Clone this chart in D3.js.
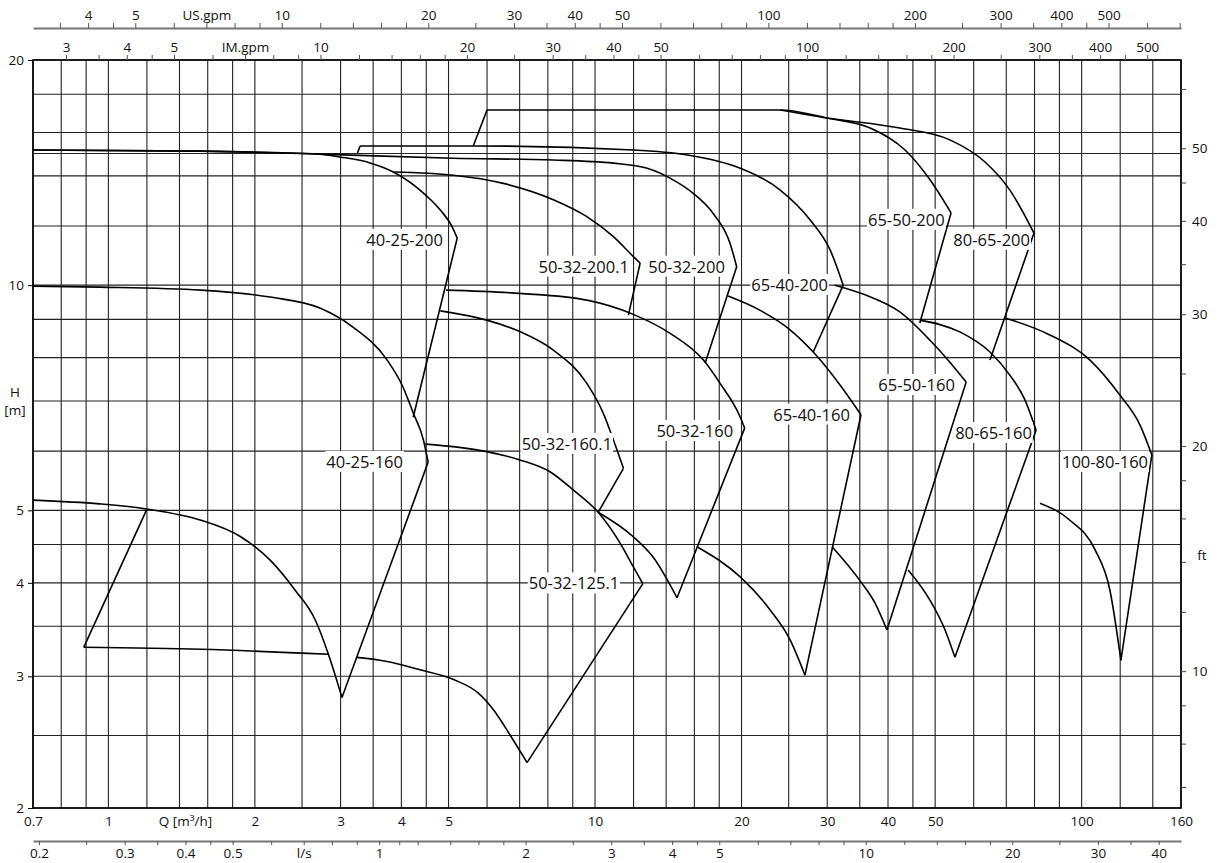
<!DOCTYPE html>
<html>
<head>
<meta charset="utf-8">
<script src="https://d3js.org/d3.v7.min.js"></script>
<style>
  body { margin: 0; background: #fff; }
  svg text { font-family: "Open Sans", "DejaVu Sans", sans-serif; fill: #111; }
</style>
</head>
<body>
<svg id="chart"></svg>
<script>
// ---- axis / grid values ----
const qGrid = [0.7, 0.8, 0.9, 1, 1.2, 1.4, 1.6, 1.8, 2, 2.5, 3, 3.5, 4, 4.5, 5, 6, 7, 8, 9, 10,
  12, 14, 16, 18, 20, 25, 30, 35, 40, 45, 50, 60, 70, 80, 90, 100, 120, 140, 160];
const hGrid = [2, 2.5, 3, 3.5, 4, 4.5, 5, 6, 7, 8, 9, 10, 12, 14, 15, 16, 18, 20];
const qLabels = [0.7, 1, 2, 3, 4, 5, 10, 20, 30, 40, 50, 100, 160];
const hLabels = [2, 3, 4, 5, 10, 20];
const usTicks = [3.5, 4, 4.5, 5, 6, 7, 8, 9, 10, 12, 14, 16, 18, 20, 25, 30, 35, 40, 45, 50, 60, 70, 80, 90,
  100, 120, 140, 160, 180, 200, 250, 300, 350, 400, 450, 500, 600, 700];
const usLabels = [4, 5, 7, 10, 20, 30, 40, 50, 100, 200, 300, 400, 500];
const imTicks = [3, 3.5, 4, 4.5, 5, 6, 7, 8, 9, 10, 12, 14, 16, 18, 20, 25, 30, 35, 40, 45, 50, 60, 70, 80, 90,
  100, 120, 140, 160, 180, 200, 250, 300, 350, 400, 450, 500];
const imLabels = [3, 4, 5, 7, 10, 20, 30, 40, 50, 100, 200, 300, 400, 500];
const lsTicks = [0.2, 0.25, 0.3, 0.35, 0.4, 0.45, 0.5, 0.6, 0.7, 0.8, 0.9, 1, 1.1, 1.2, 1.4, 1.6, 1.8, 2, 2.5,
  3, 3.5, 4, 4.5, 5, 6, 7, 8, 9, 10, 12, 14, 16, 18, 20, 25, 30, 35, 40];
const lsLabels = [0.2, 0.3, 0.4, 0.5, 0.7, 1, 2, 3, 4, 5, 10, 20, 30, 40];
const ftTicks = [7, 8, 9, 10, 12, 14, 16, 18, 20, 25, 30, 35, 40, 45, 50, 60];
const ftLabels = [10, 20, 30, 40, 50];

// ---- pump curves [Q m3/h, H m] ----
const smallTop = [[0.70,5.16],[0.96,5.10],[1.20,5.02],[1.55,4.85],[1.87,4.61],[2.15,4.29],[2.42,3.91],[2.66,3.57],[2.86,3.15],[3.02,2.81]];
const smallBottom = [[0.89,3.28],[1.55,3.26],[2.84,3.21]];
const smallLeft = [[0.89,3.28],[1.20,5.02]];

const top4025160 = [[0.70,9.97],[0.96,9.94],[1.55,9.85],[2.15,9.64],[2.72,9.32],[3.18,8.79],[3.74,7.94],[4.03,7.31],[4.23,6.75],[4.44,6.21],[4.54,5.80]];
const end4025160 = [3.02,2.81];

const top4025200 = [[0.70,15.16],[1.55,15.11],[2.72,14.97],[2.99,14.84],[3.45,14.57],[3.85,14.17],[4.37,13.40],[4.81,12.60],[5.09,11.96],[5.21,11.56]];
const end4025200 = [4.23,6.66];

const top5032200 = [[0.70,15.16],[1.55,15.11],[2.72,14.97],[5.11,14.78],[8.21,14.70],[10.91,14.56],[12.8,14.33],[14.47,13.83],[15.91,13.27],[17.49,12.47],[18.94,11.38],[19.55,10.58]];
const end5032200 = [16.84,7.87];

const top50322001 = [[3.85,14.17],[5.12,14.03],[6.48,13.68],[8.21,13.01],[9.62,12.35],[10.91,11.61],[11.99,10.92],[12.38,10.70]];
const end50322001 = [11.71,9.12];

const step6540 = [[3.25,15.02],[3.29,15.35]];
const top6540200 = [[3.29,15.35],[5.62,15.35],[11.98,15.16],[15.48,14.93],[19.88,14.33],[24.02,13.40],[27.68,12.22],[30.43,11.14],[32.36,10.00]];
const end6540200 = [28.08,8.14];

const step6550 = [[5.62,15.35],[6.00,17.15]];
const top6550200 = [[6.00,17.15],[24.02,17.15],[29.97,16.73],[36.75,16.22],[43.36,15.16],[48.8,13.83],[53.9,12.49]];
const end6550200 = [46.5,8.90];
const top8065200 = [[24.02,17.15],[29.97,16.73],[42.3,16.22],[53.6,15.64],[63.3,14.61],[71.2,13.40],[79.8,11.74]];
const end8065200 = [64.8,7.94];

const top5032160 = [[4.94,9.85],[7.01,9.75],[9.62,9.55],[11.99,9.14],[14.27,8.62],[16.7,7.94],[18.07,7.39],[19.86,6.67],[20.3,6.44]];
const end5032160 = [14.74,3.82];
const min5032160 = [[10.15,4.97],[11.98,4.61],[13.16,4.33],[14.74,3.82]];

const top50321601 = [[4.81,9.24],[5.99,8.98],[7.01,8.67],[8.21,8.19],[9.62,7.39],[10.40,6.74],[10.91,6.21],[11.44,5.69]];
const end50321601 = [10.15,4.97];

const top50321251 = [[4.48,6.13],[5.99,5.99],[7.01,5.84],[8.08,5.63],[9.03,5.32],[10.15,4.97],[11.26,4.52],[11.99,4.20],[12.54,3.99]];
const end50321251 = [7.25,2.30];
const min50321251 = [[3.24,3.18],[3.74,3.14],[4.37,3.06],[5.12,2.97],[5.75,2.85],[6.20,2.70],[6.70,2.50],[7.25,2.30]];

const top6540160 = [[18.77,9.67],[21.8,9.26],[25.2,8.71],[28.08,8.14],[31.9,7.35],[35.2,6.71]];
const end6540160 = [27.0,3.01];
const min6540160 = [[16.2,4.47],[19.9,4.07],[22.9,3.68],[25.2,3.35],[27.0,3.01]];

const top6550160 = [[31.1,10.00],[36.0,9.70],[42.3,9.21],[48.8,8.44],[53.6,7.89],[57.9,7.42]];
const end6550160 = [39.8,3.46];
const min6550160 = [[30.7,4.47],[35.0,4.03],[37.6,3.76],[39.8,3.46]];

const top8065160 = [[46.5,8.98],[56.2,8.66],[64.8,8.14],[71.2,7.58],[76.5,7.02],[80.6,6.40]];
const end8065160 = [54.9,3.18];
const min8065160 = [[44.0,4.16],[48.8,3.79],[52.4,3.46],[54.9,3.18]];

const top10080160 = [[69.6,9.04],[86.0,8.58],[104.0,7.94],[119.8,7.13],[131.8,6.50],[139.4,5.93]];
const end10080160 = [120.4,3.15];
const min10080160 = [[82.1,5.11],[94.6,4.85],[106.5,4.43],[114.3,3.91],[120.4,3.15]];

// label text with anchor (right end) in [Q, H]
const curveLabels = [
  ['40-25-200', 4.87, 11.49], ['50-32-200.1', 11.74, 10.58], ['50-32-200', 18.49, 10.58],
  ['65-40-200', 30.1, 10.0], ['65-50-200', 52.3, 12.22], ['80-65-200', 78.3, 11.49],
  ['40-25-160', 4.03, 5.80], ['50-32-160.1', 10.84, 6.13], ['50-32-160', 19.22, 6.38],
  ['65-40-160', 33.4, 6.71], ['65-50-160', 54.9, 7.35], ['80-65-160', 79.0, 6.34],
  ['100-80-160', 136.9, 5.80], ['50-32-125.1', 11.21, 3.99]
];

class PumpChart {
  constructor(_config) {
    this.config = {
      parentElement: _config.parentElement,
      containerWidth: _config.containerWidth || 1219,
      containerHeight: _config.containerHeight || 863,
      margin: { top: 60, right: 38, bottom: 55, left: 33 }
    };
    this.initVis();
  }

  initVis() {
    let vis = this;
    vis.width = vis.config.containerWidth - vis.config.margin.left - vis.config.margin.right;
    vis.height = vis.config.containerHeight - vis.config.margin.top - vis.config.margin.bottom;

    vis.svg = d3.select(vis.config.parentElement)
      .attr('width', vis.config.containerWidth)
      .attr('height', vis.config.containerHeight);

    vis.chart = vis.svg.append('g')
      .attr('transform', `translate(${vis.config.margin.left},${vis.config.margin.top})`);

    vis.xScale = d3.scaleLog().domain([0.7, 160]).range([0, vis.width]);
    vis.yScale = d3.scaleLog().domain([2, 20]).range([vis.height, 0]);

    // secondary unit scales
    vis.usScale = d3.scaleLog().domain([0.7 * 4.40287, 160 * 4.40287]).range([0, vis.width]);
    vis.imScale = d3.scaleLog().domain([0.7 * 3.66615, 160 * 3.66615]).range([0, vis.width]);
    vis.lsScale = d3.scaleLog().domain([0.7 / 3.6, 160 / 3.6]).range([0, vis.width]);
    vis.ftScale = d3.scaleLog().domain([2 * 3.28084, 20 * 3.28084]).range([vis.height, 0]);

    vis.smooth = d3.line()
      .x(d => vis.xScale(d[0]))
      .y(d => vis.yScale(d[1]))
      .curve(d3.curveMonotoneX);
    vis.straight = d3.line()
      .x(d => vis.xScale(d[0]))
      .y(d => vis.yScale(d[1]));

    this.renderVis();
  }

  renderVis() {
    let vis = this;

    // grid
    const grid = vis.chart.append('g').attr('class', 'grid');
    grid.selectAll('.vgrid').data(qGrid).join('line')
      .attr('x1', d => vis.xScale(d)).attr('x2', d => vis.xScale(d))
      .attr('y1', 0).attr('y2', vis.height)
      .attr('stroke', '#222').attr('stroke-width', 1.1);
    grid.selectAll('.hgrid').data(hGrid).join('line')
      .attr('y1', d => vis.yScale(d)).attr('y2', d => vis.yScale(d))
      .attr('x1', 0).attr('x2', vis.width)
      .attr('stroke', '#222').attr('stroke-width', 1.1);

    // curves
    const smoothSets = [smallTop, smallBottom, top4025160, top4025200, top5032200, top50322001,
      top6540200, top6550200, top8065200, top5032160, min5032160, top50321601, top50321251,
      min50321251, top6540160, min6540160, top6550160, min6550160, top8065160, min8065160,
      top10080160, min10080160];
    const straightSets = [smallLeft, step6540, step6550,
      [top4025160[top4025160.length - 1], end4025160],
      [top4025200[top4025200.length - 1], end4025200],
      [top5032200[top5032200.length - 1], end5032200],
      [top50322001[top50322001.length - 1], end50322001],
      [top6540200[top6540200.length - 1], end6540200],
      [top6550200[top6550200.length - 1], end6550200],
      [top8065200[top8065200.length - 1], end8065200],
      [top5032160[top5032160.length - 1], end5032160],
      [top50321601[top50321601.length - 1], end50321601],
      [top50321251[top50321251.length - 1], end50321251],
      [top6540160[top6540160.length - 1], end6540160],
      [top6550160[top6550160.length - 1], end6550160],
      [top8065160[top8065160.length - 1], end8065160],
      [top10080160[top10080160.length - 1], end10080160]];

    vis.marks = vis.chart.append('g');
    vis.marks.selectAll('.curve').data(smoothSets).join('path')
      .attr('class', 'curve')
      .attr('d', vis.smooth)
      .attr('fill', 'none').attr('stroke', '#000').attr('stroke-width', 1.6);
    vis.marks.selectAll('.edge').data(straightSets).join('path')
      .attr('class', 'edge')
      .attr('d', vis.straight)
      .attr('fill', 'none').attr('stroke', '#000').attr('stroke-width', 1.6);

    // curve labels with white boxes
    const lbl = vis.chart.append('g').selectAll('g').data(curveLabels).join('g')
      .attr('transform', d => `translate(${vis.xScale(d[1])},${vis.yScale(d[2])})`);
    lbl.append('rect').attr('fill', '#fff');
    lbl.append('text')
      .attr('text-anchor', 'end')
      .attr('dy', '0.35em')
      .style('font-size', '16.5px')
      .text(d => d[0]);
    lbl.each(function() {
      const b = d3.select(this).select('text').node().getBBox();
      d3.select(this).select('rect')
        .attr('x', b.x - 1).attr('y', b.y + 1).attr('width', b.width + 2).attr('height', b.height - 2);
    });

    // frame
    vis.chart.append('rect')
      .attr('width', vis.width).attr('height', vis.height)
      .attr('fill', 'none').attr('stroke', '#000').attr('stroke-width', 1.6);

    const fs = '13.5px';

    // left H axis
    const yAxisG = vis.chart.append('g')
      .call(d3.axisLeft(vis.yScale).tickValues(hLabels).tickFormat(d3.format('d')).tickSize(5).tickPadding(4));
    yAxisG.select('.domain').remove();
    yAxisG.selectAll('text').style('font-size', fs);

    vis.svg.append('text').attr('x', 15).attr('y', 397).attr('text-anchor', 'middle')
      .style('font-size', fs).text('H');
    vis.svg.append('text').attr('x', 15).attr('y', 415).attr('text-anchor', 'middle')
      .style('font-size', fs).text('[m]');

    // right ft axis
    const ftG = vis.chart.append('g')
      .attr('transform', `translate(${vis.width},0)`)
      .call(d3.axisRight(vis.ftScale).tickValues(ftTicks)
        .tickFormat(d => ftLabels.includes(d) ? d : '').tickSize(5).tickPadding(6));
    ftG.select('.domain').remove();
    ftG.selectAll('line').attr('stroke', '#444');
    ftG.selectAll('text').style('font-size', fs);
    vis.svg.append('text').attr('x', 1202).attr('y', 560).attr('text-anchor', 'middle')
      .style('font-size', fs).text('ft');

    // bottom Q axis
    const xAxisG = vis.chart.append('g')
      .attr('transform', `translate(0,${vis.height})`)
      .call(d3.axisBottom(vis.xScale).tickValues(qLabels).tickFormat(d => d).tickSize(0).tickPadding(8));
    xAxisG.select('.domain').remove();
    xAxisG.selectAll('text').style('font-size', fs);
    vis.chart.append('text')
      .attr('x', vis.xScale(1.44)).attr('y', vis.height + 8).attr('dy', '0.71em')
      .attr('text-anchor', 'middle').style('font-size', fs).text('Q [m³/h]');

    // bottom l/s axis
    const lsG = vis.chart.append('g')
      .attr('transform', `translate(0,${vis.height + 33})`)
      .call(d3.axisBottom(vis.lsScale).tickValues(lsTicks)
        .tickFormat(d => d === 0.7 ? 'l/s' : (lsLabels.includes(d) ? d : ''))
        .tickSize(4).tickSizeOuter(0).tickPadding(3));
    lsG.select('.domain').attr('stroke', '#777').attr('stroke-width', 1.8);
    lsG.selectAll('line').attr('stroke', '#555');
    lsG.selectAll('text').style('font-size', fs);

    // top IM axis (on frame)
    const imG = vis.chart.append('g')
      .call(d3.axisTop(vis.imScale).tickValues(imTicks)
        .tickFormat(d => d === 7 ? 'IM.gpm' : (imLabels.includes(d) ? d : ''))
        .tickSize(5).tickSizeOuter(0).tickPadding(3));
    imG.select('.domain').remove();
    imG.selectAll('line').attr('stroke', '#555');
    imG.selectAll('text').style('font-size', fs);

    // top US axis
    const usG = vis.chart.append('g')
      .attr('transform', 'translate(0,-32)')
      .call(d3.axisTop(vis.usScale).tickValues(usTicks)
        .tickFormat(d => d === 7 ? 'US.gpm' : (usLabels.includes(d) ? d : ''))
        .tickSize(5).tickSizeOuter(0).tickPadding(3));
    usG.select('.domain').attr('stroke', '#777').attr('stroke-width', 1.8);
    usG.selectAll('line').attr('stroke', '#555');
    usG.selectAll('text').style('font-size', fs);
  }
}

const chart = new PumpChart({ parentElement: '#chart', containerWidth: 1219, containerHeight: 863 });
</script>
</body>
</html>
